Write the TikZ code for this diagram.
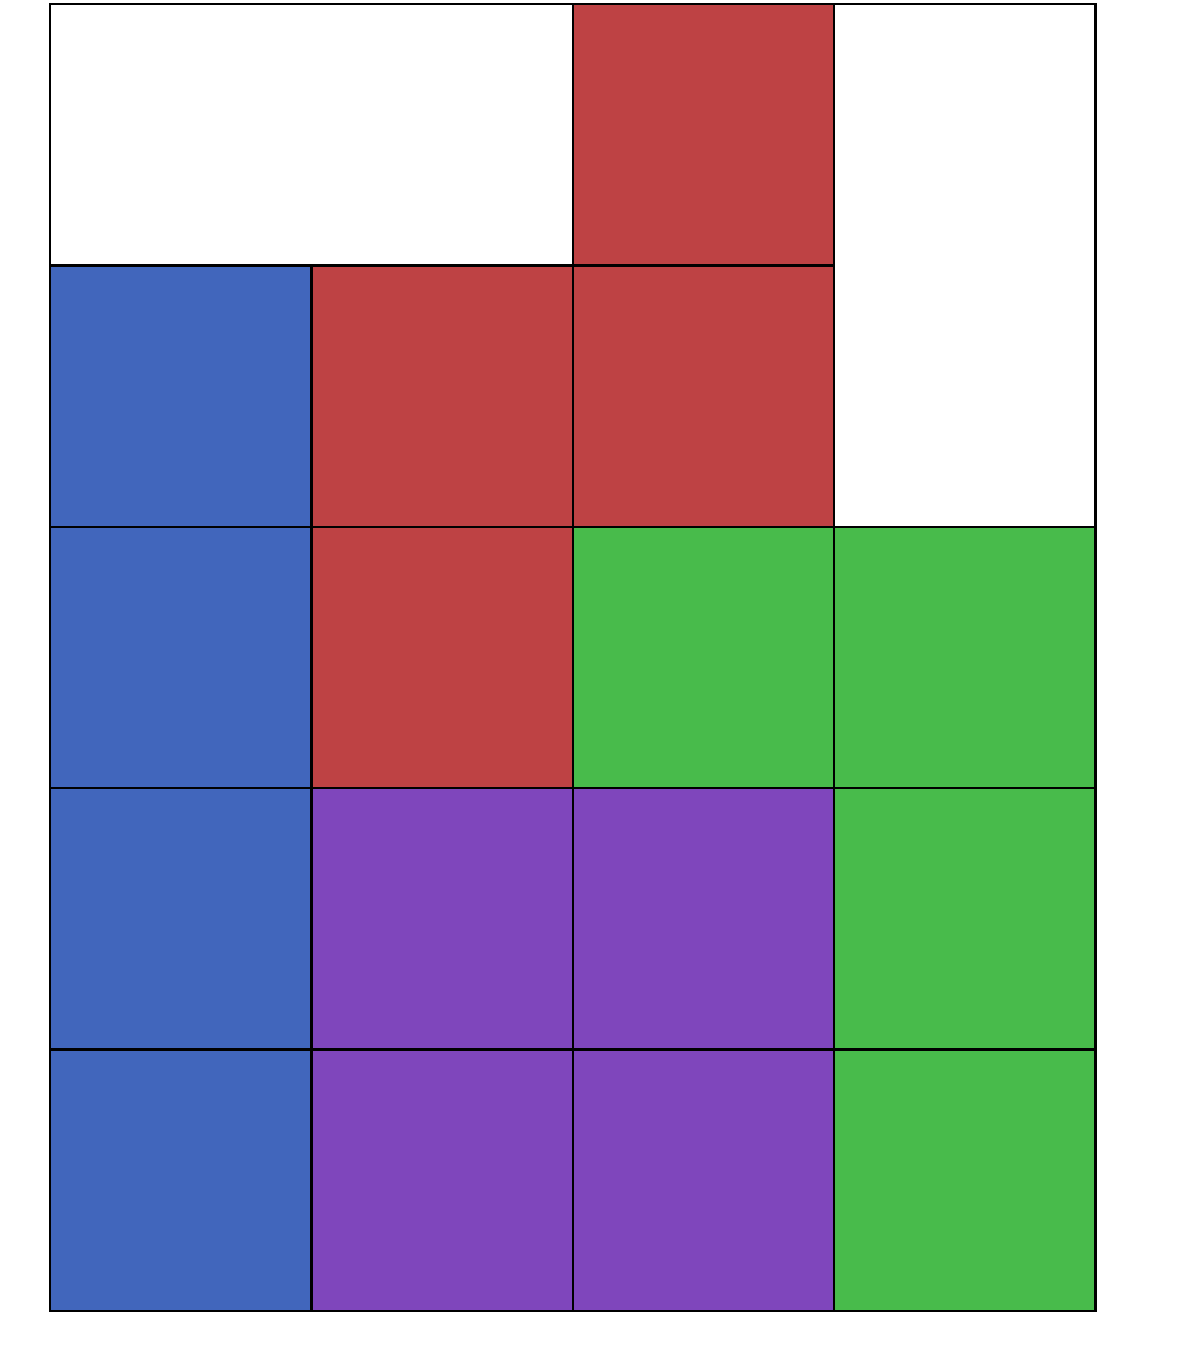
\documentclass[tikz,border=0pt]{standalone}
\definecolor{tileblue}{HTML}{4166BC}
\definecolor{tilered}{HTML}{BE4244}
\definecolor{tilegreen}{HTML}{48BB4B}
\definecolor{tilepurple}{HTML}{7F46BC}
\usetikzlibrary{positioning}

\begin{document}
\begin{tikzpicture}[
  x=2.615cm, y=2.615cm,
  cell/.style={draw=black, line width=0.7pt, minimum size=2.615cm, inner sep=0pt,
               outer sep=0pt, anchor=south west},
  bcell/.style={cell, fill=tileblue},
  rcell/.style={cell, fill=tilered},
  gcell/.style={cell, fill=tilegreen},
  pcell/.style={cell, fill=tilepurple},
  frame/.style={draw=black, line width=0.7pt},
]
  \useasboundingbox (-0.191,-0.233) rectangle (4.332,5.015);

  % ---- outer frame (white cells stay empty) ----
  \draw[frame] (0,0) rectangle (4,5);

  % ---- column 1 : blue ----
  \node[bcell] (b1) at (0,0) {};
  \node[bcell] (b2) at (0,1) {};
  \node[bcell] (b3) at (0,2) {};
  \node[bcell] (b4) at (0,3) {};

  % ---- red ----
  \node[rcell] (r1) at (1,2) {};
  \node[rcell] (r2) at (1,3) {};
  \node[rcell] (r3) at (2,3) {};
  \node[rcell] (r4) at (2,4) {};

  % ---- purple 2x2 ----
  \node[pcell] (p1) at (1,0) {};
  \node[pcell] (p2) at (2,0) {};
  \node[pcell] (p3) at (1,1) {};
  \node[pcell] (p4) at (2,1) {};

  % ---- green ----
  \node[gcell] (g1) at (3,0) {};
  \node[gcell] (g2) at (3,1) {};
  \node[gcell] (g3) at (3,2) {};
  \node[gcell] (g4) at (2,2) {};
\end{tikzpicture}
\end{document}
